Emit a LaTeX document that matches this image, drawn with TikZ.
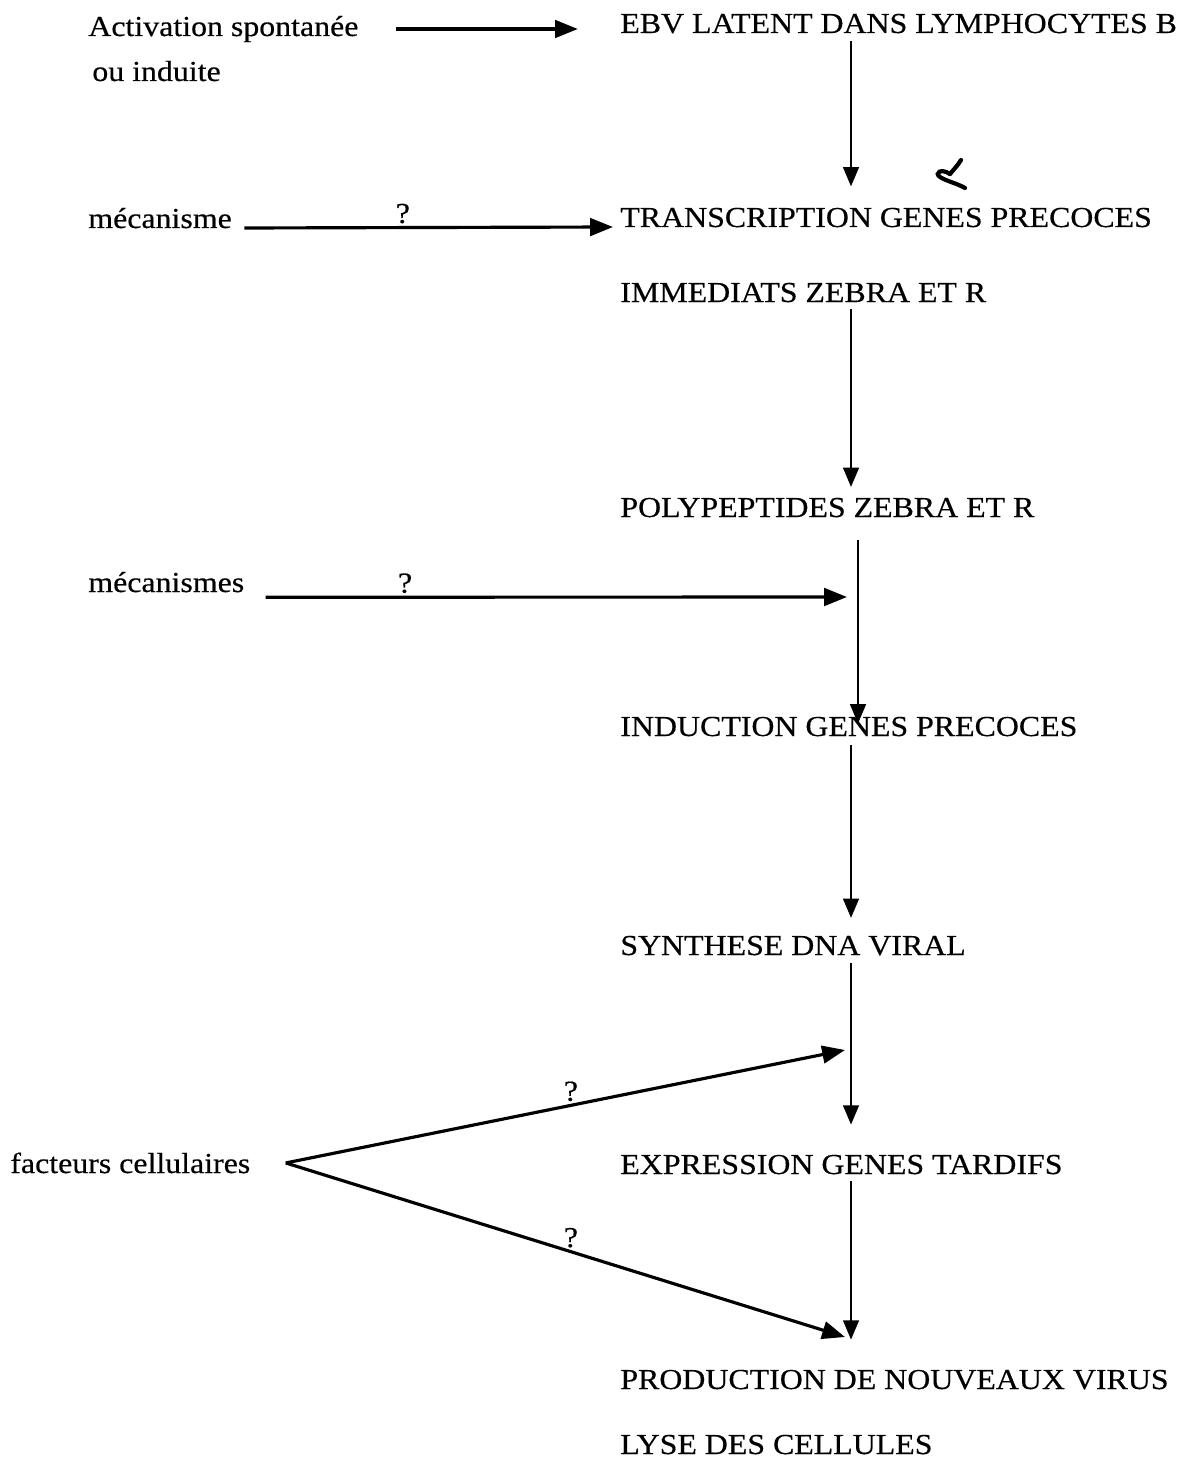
\documentclass[tikz,border=0pt]{standalone}
\usepackage{fontspec}
\setmainfont{Liberation Serif}[FakeStretch=1.1,FakeBold=0.4]
\usetikzlibrary{arrows.meta}

\begin{document}
\begin{tikzpicture}[
      x=0.02cm,y=-0.02cm,
      every node/.style={font=\fontsize{16.5}{20}\selectfont},
      stepblock/.style={anchor=base west,inner sep=0pt},
      causeblock/.style={anchor=base west,inner sep=0pt},
      qmark/.style={above,inner sep=1.5pt},
      hbar/.style={line width=1.8pt,-{Triangle[length=13pt,width=10pt]}},
      vbar/.style={line width=1.2pt,-{Triangle[length=11pt,width=9pt]}}]
      \useasboundingbox (0,0) rectangle (1201,1466);

      % Blocks
      \node[causeblock] (activ)   at (88,36)   {Activation spontanée};
      \node[causeblock] (induite) at (92,81)   {ou induite};
      \node[stepblock]  (ebv)     at (620,33)  {EBV LATENT DANS LYMPHOCYTES B};
      \node[causeblock] (mecA)    at (88,228)  {mécanisme};
      \node[stepblock]  (trans)   at (620,227) {TRANSCRIPTION GENES PRECOCES};
      \node[stepblock]  (immed)   at (620,302) {IMMEDIATS ZEBRA ET R};
      \node[stepblock]  (poly)    at (620,517) {POLYPEPTIDES ZEBRA ET R};
      \node[causeblock] (mecB)    at (88,592)  {mécanismes};
      \node[stepblock]  (induc)   at (620,736) {INDUCTION GENES PRECOCES};
      \node[stepblock]  (synth)   at (620,955) {SYNTHESE DNA VIRAL};
      \node[causeblock] (fact)    at (10,1173) {facteurs cellulaires};
      \node[stepblock]  (expr)    at (620,1174) {EXPRESSION GENES TARDIFS};
      \node[stepblock]  (prod)    at (620,1389) {PRODUCTION DE NOUVEAUX VIRUS};
      \node[stepblock]  (lyse)    at (620,1454) {LYSE DES CELLULES};

      \coordinate (spine)  at (851,0);
      \coordinate (spineb) at (858,0);
      \coordinate (hitA)   at (847,597);
      \coordinate (hitB)   at (845,1050);
      \coordinate (hitC)   at (845,1337);

      % Arrows
      \draw[hbar] ([xshift=21pt]activ.east) -- ([xshift=-24pt]activ.east -| ebv.west);
      \draw[hbar] ([xshift=7pt]mecA.base east) -- node[qmark,pos=.43] {?} ([xshift=-4pt]trans.base west);
      \draw[hbar] ([xshift=12pt,yshift=-3pt]mecB.base east) -- node[qmark,pos=.24] {?} (hitA);
      \draw[hbar] ([xshift=20pt]fact.east) -- node[qmark,pos=.51] {?} (hitB);
      \draw[hbar] ([xshift=20pt]fact.east) -- node[qmark,pos=.51] {?} (hitC);

      \draw[vbar] ([yshift=-4pt]ebv.south -| spine)    -- ([yshift=12pt]trans.north -| spine);
      \draw[vbar] ([yshift=-3.5pt]immed.south -| spine) -- ([yshift=6pt]poly.north -| spine);
      \draw[vbar] ([yshift=-13pt]poly.south -| spineb) -- ([yshift=-4pt]induc.north -| spineb);
      \draw[vbar] ([yshift=-5pt]induc.south -| spine)  -- ([yshift=10pt]synth.north -| spine);
      \draw[vbar] ([yshift=-4pt]synth.south -| spine)  -- ([yshift=17pt]expr.north -| spine);
      \draw[vbar] ([yshift=-3.5pt]expr.south -| spine) -- ([yshift=17pt]prod.north -| spine);

      % pen mark
      \draw[line width=2.4pt,line cap=round] (950,174) .. controls (955,168) and (958,165) .. (961,160);
      \draw[line width=2.4pt,line cap=round] (950,174) .. controls (941,168) and (934,173) .. (940,177)
        .. controls (946,181) and (956,183) .. (965,188);
\end{tikzpicture}
\end{document}
